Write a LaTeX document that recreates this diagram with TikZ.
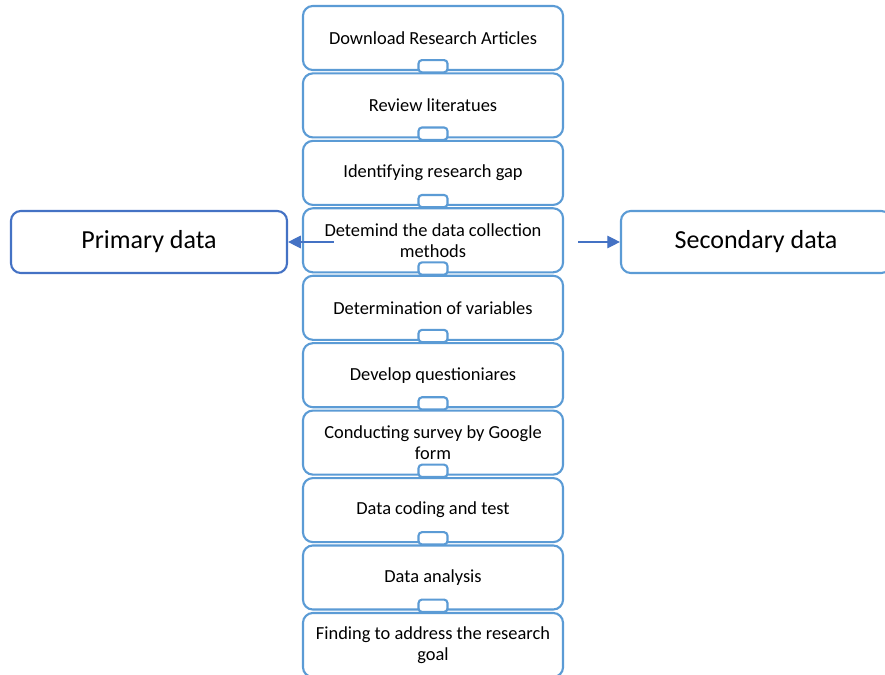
\documentclass[tikz,border=0pt]{standalone}
\usepackage{fontspec}
\setmainfont{Carlito}
\usepackage{xcolor}
\usetikzlibrary{arrows.meta}
\definecolor{stepblue}{HTML}{5B9BD5}
\definecolor{darkblue}{HTML}{4472C4}
\tikzset{
  stepbox/.style={draw=stepblue,line width=1.5pt,rounded corners=7pt,fill=white,
    minimum width=6.5cm,minimum height=1.6cm,align=center,
    font=\fontsize{13.1}{15}\selectfont},
  databox/.style={draw=stepblue,line width=1.5pt,rounded corners=7pt,fill=white,
    minimum height=1.55cm,font=\fontsize{18.5}{22}\selectfont},
  tab/.style={draw=stepblue,line width=1.5pt,rounded corners=2.5pt,fill=white},
  flowarrow/.style={draw=darkblue,line width=0.8pt,-{Triangle[length=9pt,width=9pt]}}
}
\begin{document}
\begin{tikzpicture}[x=0.025cm,y=-0.025cm]
		\useasboundingbox (0,0) rectangle (885,675);
		\node[stepbox] (S1) at (433,38) {Download Research Articles};
		\node[stepbox] (S2) at (433,105.4) {Review literatues};
		\node[stepbox] (S3) at (433,172.9) {Identifying research gap};
		\node[stepbox] (S4) at (433,240.3) {Detemind the data collection\\methods};
		\node[stepbox] (S5) at (433,307.8) {Determination of variables};
		\node[stepbox] (S6) at (433,375.2) {Develop questioniares};
		\node[stepbox] (S7) at (433,442.6) {Conducting survey by Google\\form};
		\node[stepbox] (S8) at (433,510.1) {Data coding and test};
		\node[stepbox] (S9) at (433,577.5) {Data analysis};
		\node[stepbox] (S10) at (433,645) {Finding to address the research\\goal};
		%
		\node[databox,draw=darkblue,minimum width=6.9cm] (P) at (149,242) {Primary data};
		\node[databox,minimum width=6.75cm] (Q) at (756,242) {Secondary data};
		%
		\draw[tab] ([shift={(-14.5,-11)}]S1.south) rectangle ([shift={(14.5,0)}]S2.north);
		\draw[tab] ([shift={(-14.5,-11)}]S2.south) rectangle ([shift={(14.5,0)}]S3.north);
		\draw[tab] ([shift={(-14.5,-11)}]S3.south) rectangle ([shift={(14.5,0)}]S4.north);
		\draw[tab] ([shift={(-14.5,-11)}]S4.south) rectangle ([shift={(14.5,0)}]S5.north);
		\draw[tab] ([shift={(-14.5,-11)}]S5.south) rectangle ([shift={(14.5,0)}]S6.north);
		\draw[tab] ([shift={(-14.5,-11)}]S6.south) rectangle ([shift={(14.5,0)}]S7.north);
		\draw[tab] ([shift={(-14.5,-11)}]S7.south) rectangle ([shift={(14.5,0)}]S8.north);
		\draw[tab] ([shift={(-14.5,-11)}]S8.south) rectangle ([shift={(14.5,0)}]S9.north);
		\draw[tab] ([shift={(-14.5,-11)}]S9.south) rectangle ([shift={(14.5,0)}]S10.north);
		%
		\coordinate (la) at ([shift={(32,0)}]S4.west |- P.east);
		\coordinate (ra) at ([shift={(14,0)}]S4.east |- Q.west);
		\draw[flowarrow] (la) -- (P.east);
		\draw[flowarrow] (ra) -- (Q.west);
\end{tikzpicture}
\end{document}
